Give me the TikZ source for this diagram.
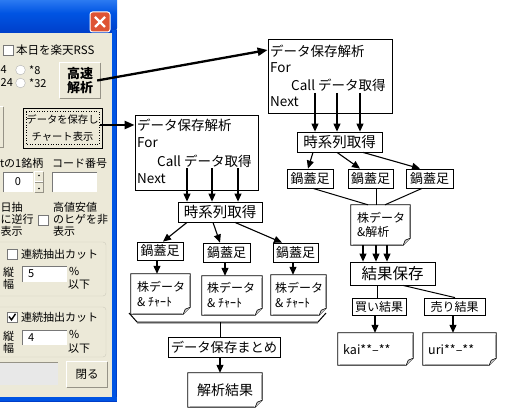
\documentclass[tikz,border=0pt]{standalone}
\usepackage{fontspec}
\setmainfont{Noto Sans CJK JP}
\usetikzlibrary{arrows.meta}
\newcommand\myfs[1]{\fontsize{#1}{#1}\selectfont}
\definecolor{dlgbg}{RGB}{236,233,216}
\definecolor{xpblue}{RGB}{0,84,227}
\definecolor{xplight}{RGB}{70,145,250}
\definecolor{xpdark}{RGB}{0,62,200}
\definecolor{btnshadow}{RGB}{150,147,135}
\definecolor{grpline}{RGB}{205,203,188}
\definecolor{closered}{RGB}{222,84,52}
\definecolor{editline}{RGB}{120,120,120}
\newcommand\docshape[1]{%
  \draw[line width=0.8pt] (#1.north west) -- (#1.north east) -- ([yshift=7pt]#1.south east)
     -- ([xshift=-7pt]#1.south east) -- (#1.south west) -- cycle;
  \draw[line width=0.6pt, fill=gray!40] ([yshift=7pt]#1.south east) -- ([xshift=-5pt,yshift=5pt]#1.south east) -- ([xshift=-7pt]#1.south east);
  \draw[gray!70, line width=1pt] ([xshift=-1.2pt,yshift=-2pt]#1.north east) -- ([xshift=-1.2pt,yshift=8pt]#1.south east);
  \draw[gray!70, line width=1pt] ([xshift=2pt,yshift=1.2pt]#1.south west) -- ([xshift=-8pt,yshift=1.2pt]#1.south east);
}
\newcommand\raised[1]{%
  \draw[white, line width=1pt] (#1.south west) -- (#1.north west) -- (#1.north east);
  \draw[btnshadow, line width=1pt] (#1.north east) -- (#1.south east) -- (#1.south west);
}
\tikzset{
  box/.style={draw, line width=0.8pt, fill=white, inner sep=0pt},
  doc/.style={inner sep=0pt},
  arr/.style={-{Triangle[length=8pt,width=7pt]}, line width=1.1pt},
  barr/.style={-{Triangle[length=10pt,width=8pt]}, line width=2.3pt},
  ln/.style={line width=1pt},
  lbl/.style={inner sep=0pt, anchor=west},
  dt/.style={inner sep=0pt, font=\myfs{11}},
  edit/.style={fill=white, draw=none, inner sep=0pt},
  btn/.style={fill=dlgbg, inner sep=0pt},
}
\begin{document}
\begin{tikzpicture}[x=1pt,y=-1pt]
\useasboundingbox (0,0) rectangle (514,417);
\clip (0,0) rectangle (514,417);
\fill[white] (0,0) rectangle (514,417);
% ===== dialog window =====
\shade[top color=xplight, bottom color=xpdark, middle color=xpblue, rounded corners=6pt] (-20,-8) rectangle (117,34);
\fill[xpblue] (112,30) rectangle (117,402);
\fill[xpdark] (115.5,30) rectangle (117,402);
\fill[xpblue] (-20,397) rectangle (117,402);
\fill[xpdark] (-20,400.5) rectangle (117,402);
\fill[dlgbg] (-20,33) rectangle (112,397);
% close button
\draw[white, line width=1pt, fill=closered, rounded corners=2.5pt] (90,12) rectangle (110,32);
\draw[white, line width=2.2pt] (95,17) -- (105,27) (105,17) -- (95,27);
% checkbox RSS
\draw[editline, fill=white] (3,45) rectangle (13,55);
\node[dt, anchor=west, font=\myfs{11.5}] (dt1) at (16,50) {本日を楽天RSS};
% radios
\node[dt, anchor=west] (dt2) at (0.5,70) {4};
\node[dt, anchor=west] (dt3) at (0.5,83) {24};
\draw[gray!60, fill=white] (20.5,70) circle (4.8);
\draw[gray!60, fill=white] (20.5,83) circle (4.8);
\node[dt, anchor=west] (dt4) at (29,70) {*8};
\node[dt, anchor=west] (dt5) at (29,83) {*32};
% button fast
\node[btn, minimum width=40, minimum height=35, align=center, font=\fontsize{13}{14}\selectfont\bfseries] (btnk) at (80,80.5) {高速\\解析};
\raised{btnk}
% partial left button
\node[btn, minimum width=6, minimum height=40] (btnp) at (0,127) {};
\raised{btnp}
% button save
\node[btn, draw=black, line width=0.8pt, minimum width=79, minimum height=40, align=center, font=\fontsize{10.3}{17}\selectfont] (btns) at (62.5,128) {データを保存し\\チャート表示};
\draw[dotted, line width=0.6pt] ([shift={(3.5pt,-4pt)}]btns.north west) rectangle ([shift={(-3.5pt,4pt)}]btns.south east);
\node[dt, anchor=east] (dt6) at (43.5,163) {tの1銘柄};
\node[dt, anchor=west] (dt7) at (52,163) {コード番号};
% spin edit
\node[edit, minimum width=30, minimum height=20] (ed0) at (18,182) {};
\draw[editline] (ed0.south west) -- (ed0.north west) -- (ed0.north east);
\node[dt] (dt8) at (18,182) {0};
\node[btn, minimum width=8, minimum height=10] (sp1) at (39,177) {};
\node[btn, minimum width=8, minimum height=10] (sp2) at (39,187) {};
\raised{sp1}\raised{sp2}
\fill (39,175.5) circle (0.8); \fill (39,188.5) circle (0.8);
\node[edit, minimum width=45, minimum height=20] (edc) at (74.5,182) {};
\draw[editline] (edc.south west) -- (edc.north west) -- (edc.north east);
% reverse text
\node[dt, anchor=west] (dt9) at (0.5,207.5) {日抽};
\node[dt, anchor=west] (dt10) at (0.5,219) {に逆行};
\node[dt, anchor=west] (dt11) at (0.5,231) {表示};
\draw[editline, fill=white] (38,215) rectangle (48,225);
\node[dt, anchor=west] (dt12) at (53,207.5) {高値安値};
\node[dt, anchor=west] (dt13) at (53,219) {のヒゲを非};
\node[dt, anchor=west] (dt14) at (53,231) {表示};
% group 1
\draw[grpline, rounded corners=3pt] (-3,242) rectangle (106,296);
\draw[editline, fill=white] (7,249) rectangle (17,259);
\node[dt, anchor=west] (dt15) at (21,254) {連続抽出カット};
\node[dt] (dt16) at (8.5,272) {縦};
\node[dt] (dt17) at (8.5,284) {幅};
\node[edit, minimum width=45, minimum height=15] (ed5) at (44.5,274) {};
\draw[editline] (ed5.south west) -- (ed5.north west) -- (ed5.north east);
\node[dt, anchor=west] (dt18) at (28,274) {5};
\node[dt, anchor=west] (dt19) at (69,271) {\%};
\node[dt, anchor=west] (dt20) at (68,284.5) {以下};
% group 2
\draw[grpline, rounded corners=3pt] (-3,307) rectangle (106,357);
\draw[editline, fill=white] (7,312) rectangle (17,322);
\draw[line width=1.4pt] (9,316.5) -- (11.5,319.8) -- (15.5,313.8);
\node[dt, anchor=west] (dt21) at (21,317) {連続抽出カット};
\node[dt] (dt22) at (8.5,336) {縦};
\node[dt] (dt23) at (8.5,348) {幅};
\node[edit, minimum width=45, minimum height=15] (ed4) at (44.5,337.5) {};
\draw[editline] (ed4.south west) -- (ed4.north west) -- (ed4.north east);
\node[dt, anchor=west] (dt24) at (28,338) {4};
\node[dt, anchor=west] (dt25) at (69,334) {\%};
\node[dt, anchor=west] (dt26) at (68,348.5) {以下};
% bottom
\node[fill=gray!18, minimum width=68, minimum height=23, inner sep=0pt] (gbar) at (24,373.5) {};
\draw[btnshadow] (gbar.south west) -- (gbar.north west) -- (gbar.north east);
\node[btn, minimum width=40, minimum height=25, font=\myfs{11.5}] (btnc) at (87,374.5) {閉る};
\raised{btnc}
% ===== right flowchart =====
\node[box, minimum width=124, minimum height=74] (rloop) at (330,76) {};
\node[lbl, font=\myfs{13.5}] (rl1) at (270,51) {データ保存解析};
\node[lbl, font=\myfs{13.5}] (rl2) at (270,68) {For};
\node[lbl, font=\myfs{13.5}] (rl3) at (291,85) {Call データ取得};
\node[lbl, font=\myfs{13.5}] (rl4) at (270,102) {Next};
\node[box, minimum width=85, minimum height=20, font=\myfs{14.5}] (rts) at (339.5,142) {時系列取得};
\foreach \x [count=\i] in {315,337,360} {
  \coordinate (ra\i) at (\x,93);
  \draw[arr] (ra\i) -- (ra\i |- rts.north);
}
\node[box, minimum width=46, minimum height=19, font=\myfs{13}] (rn1) at (310,178.5) {鍋蓋足};
\node[box, minimum width=45, minimum height=19, font=\myfs{13}] (rn2) at (370.5,178.5) {鍋蓋足};
\node[box, minimum width=47, minimum height=19, font=\myfs{13}] (rn3) at (429.5,178.5) {鍋蓋足};
\draw[arr] ([xshift=-26.5pt]rts.south) -- ([xshift=-2pt]rn1.north);
\draw[arr] ([xshift=-2.5pt]rts.south) -- ([xshift=-10.5pt]rn2.north);
\draw[arr] ([xshift=23.5pt]rts.south) -- ([xshift=-9.5pt]rn3.north);
\node[doc, minimum width=59, minimum height=40] (rdoc) at (380.5,225) {};
\node[lbl, align=left, font=\fontsize{12}{14}\selectfont] (rdt) at (357,225) {株データ\\\&解析};
\docshape{rdoc}
\draw[ln] ([xshift=3pt]rn1.south) -- ([xshift=-12.5pt]rdoc.north);
\draw[ln] ([xshift=5.5pt]rn2.south) -- ([xshift=-4.5pt]rdoc.north);
\draw[ln] ([xshift=-7.5pt]rn3.south) -- ([xshift=4.5pt]rdoc.north);
\node[box, minimum width=85, minimum height=23, font=\myfs{15.5}] (rres) at (392.5,273.5) {結果保存};
\foreach \s [count=\i] in {-17.5,-4.5,6.5} {
  \coordinate (rb\i) at ([xshift=\s pt]rdoc.south);
  \draw[arr] (rb\i) -- (rb\i |- rres.north);
}
\node[box, minimum width=54, minimum height=17, font=\myfs{12}] (buy) at (379,306.5) {買い結果};
\node[box, minimum width=61, minimum height=17, font=\myfs{12}] (sell) at (454.5,306.5) {売り結果};
\draw[ln] ([xshift=-15.5pt]rres.south) -- ([xshift=-2pt]buy.north);
\draw[ln] ([xshift=10.5pt]rres.south) -- ([xshift=0.5pt]sell.north);
\node[doc, minimum width=75, minimum height=32] (kai) at (375.5,349) {};
\node[lbl, font=\myfs{12.5}] (kait) at (343,350) {kai**–**};
\docshape{kai}
\node[doc, minimum width=73, minimum height=32] (uri) at (459.5,349) {};
\node[lbl, font=\myfs{12.5}] (urit) at (428,350) {uri**–**};
\docshape{uri}
\draw[arr] ([xshift=-4pt]buy.south) -- ([xshift=-0.5pt]kai.north);
\draw[arr] ([xshift=-1.5pt]sell.south) -- ([xshift=-6.5pt]uri.north);
% ===== left flowchart =====
\node[box, minimum width=123, minimum height=75] (lloop) at (196.5,152.5) {};
\node[lbl, font=\myfs{13.5}] (ll1) at (137,125) {データ保存解析};
\node[lbl, font=\myfs{13.5}] (ll2) at (137,143) {For};
\node[lbl, font=\myfs{13.5}] (ll3) at (157,161) {Call データ取得};
\node[lbl, font=\myfs{13.5}] (ll4) at (137,179) {Next};
\node[box, minimum width=84, minimum height=20, font=\myfs{14.5}] (lts) at (220,212) {時系列取得};
\foreach \x [count=\i] in {187,212,238} {
  \coordinate (la\i) at (\x,168);
  \draw[arr] (la\i) -- (la\i |- lts.north);
}
\node[box, minimum width=46, minimum height=18, font=\myfs{13}] (ln1) at (160,251) {鍋蓋足};
\node[box, minimum width=47, minimum height=19, font=\myfs{13}] (ln2) at (226.5,252.5) {鍋蓋足};
\node[box, minimum width=45, minimum height=19, font=\myfs{13}] (ln3) at (295.5,252.5) {鍋蓋足};
\draw[arr] ([xshift=-33pt]lts.south) -- ([xshift=3pt]ln1.north);
\draw[arr] ([xshift=-7pt]lts.south) -- ([xshift=-6.5pt]ln2.north);
\draw[arr] ([xshift=15pt]lts.south) -- ([xshift=-13.5pt]ln3.north);
\node[doc, minimum width=59, minimum height=40] (ld1) at (160.5,294) {};
\node[lbl, align=left, font=\fontsize{12}{15}\selectfont] (ldt1) at (137,294) {株データ\\\& ﾁｬｰﾄ};
\docshape{ld1}
\node[doc, minimum width=60, minimum height=39] (ld2) at (232,295.5) {};
\node[lbl, align=left, font=\fontsize{12}{15}\selectfont] (ldt2) at (207,295.5) {株データ\\\& ﾁｬｰﾄ};
\docshape{ld2}
\node[doc, minimum width=55, minimum height=40] (ld3) at (298.5,295) {};
\node[lbl, align=left, font=\fontsize{12}{15}\selectfont] (ldt3) at (275,295) {株データ\\\& ﾁｬｰﾄ};
\docshape{ld3}
\draw[arr] ([xshift=-3pt]ln1.south) -- ([xshift=-3.5pt]ld1.north);
\draw[arr] ([xshift=-1.5pt]ln2.south) -- ([xshift=-7pt]ld2.north);
\draw[arr] ([xshift=-2.5pt]ln3.south) -- ([xshift=-5.5pt]ld3.north);
\coordinate (bl) at (129,313);
\coordinate (bla) at (137,322);
\coordinate (bra) at (318,322);
\coordinate (br) at (326,313);
\coordinate (bm) at (220,322);
\draw[gray!60, line width=1pt] (bla) ++(0,1.5) -- ([yshift=-1.5pt]bra);
\draw[ln] (bl) -- (bla) -- (bra) -- (br);
\node[box, minimum width=112, minimum height=20, font=\myfs{13.3}] (msum) at (224,347) {データ保存まとめ};
\draw[ln] (bm) -- (bm |- msum.north);
\node[doc, minimum width=74, minimum height=34, font=\myfs{14}] (resd) at (225,390) {解析結果};
\docshape{resd}
\draw[arr] ([xshift=-4pt]msum.south) -- ([xshift=-5pt]resd.north);
% ===== button arrows =====
\draw[barr] ([xshift=-3pt]btnk.east) -- ([yshift=26pt]rloop.west);
\draw[barr] ([xshift=-2pt,yshift=3pt]btns.east) -- ([yshift=27.5pt]lloop.west);
\end{tikzpicture}
\end{document}
